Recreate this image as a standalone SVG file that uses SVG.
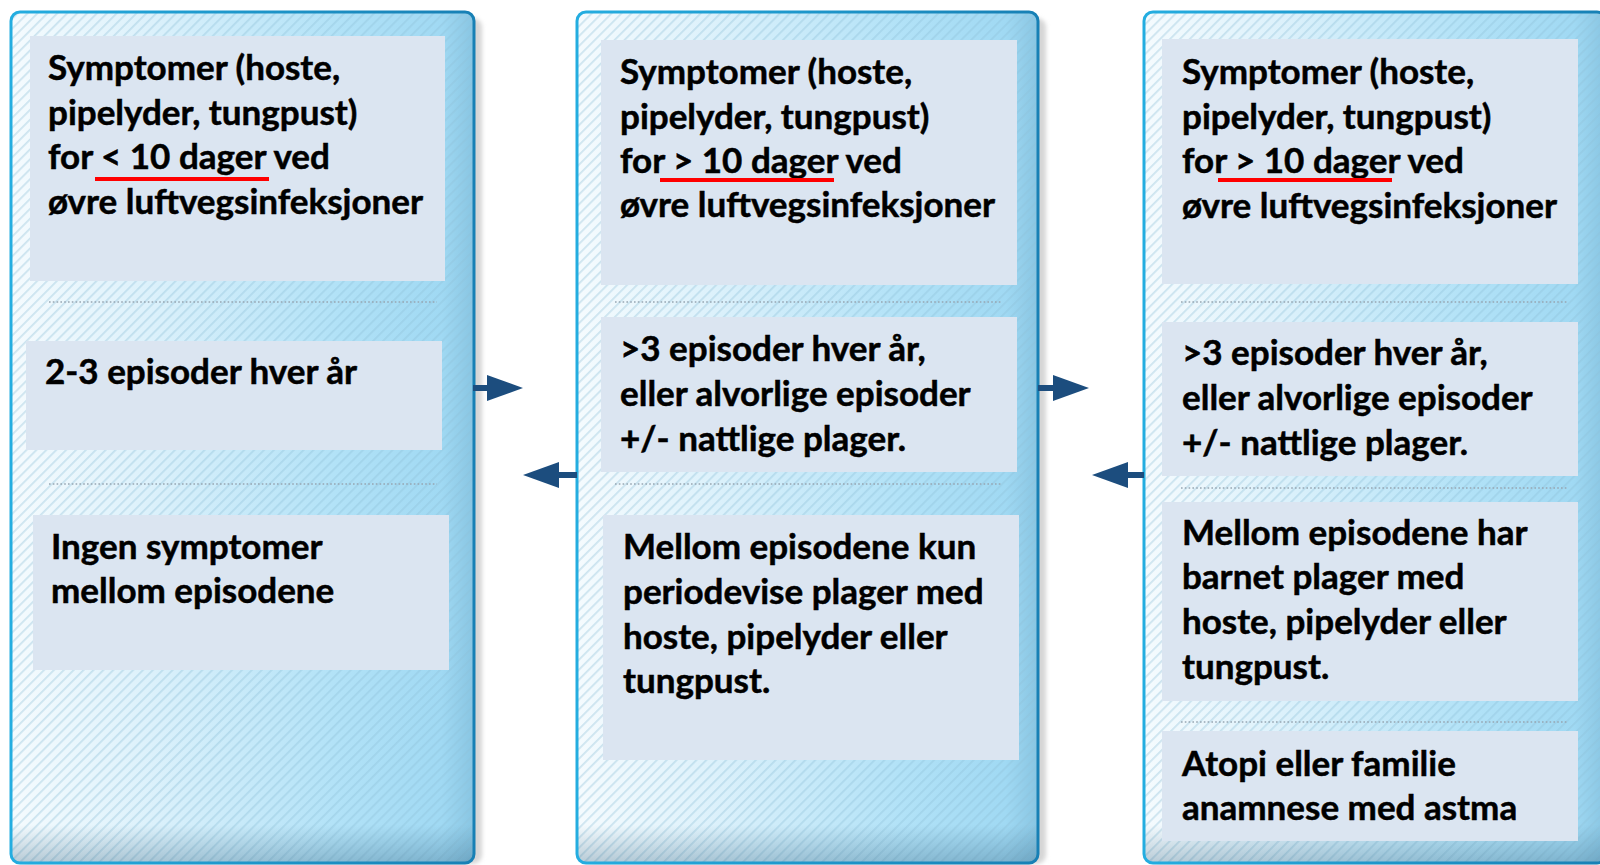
<svg xmlns="http://www.w3.org/2000/svg" width="1600" height="865" viewBox="0 0 1600 865">
<defs>
<style>
.t{font-family:Lato,"Open Sans","Liberation Sans",sans-serif;font-weight:700;font-size:35px;fill:#000;stroke:#000;stroke-width:0.5}
.box{fill:#dbe5f1}
.dot{stroke:#97a6b2;stroke-width:1.6;stroke-dasharray:1.6 2.2;fill:none}
.ul{stroke:#ff0000;stroke-width:4;fill:none}
.arr{fill:#1c4d7e}
.panel{fill:url(#pg)}
.hatch{fill:url(#hatch)}
.bot{fill:url(#bg)}
.frame{fill:none;stroke:url(#sg);stroke-width:3}
.shadow{fill:#d6d6d6;filter:url(#blur)}
</style>
<linearGradient id="pg" x1="0" y1="0" x2="1" y2="0">
<stop offset="0" stop-color="#f5fbfe"/>
<stop offset="0.3" stop-color="#dcf1fb"/>
<stop offset="0.7" stop-color="#b2e2f7"/>
<stop offset="0.93" stop-color="#a0d9f3"/>
<stop offset="1" stop-color="#88c5e2"/>
</linearGradient>
<linearGradient id="bg" x1="0" y1="0" x2="0" y2="1">
<stop offset="0.955" stop-color="#2a5a78" stop-opacity="0"/>
<stop offset="1" stop-color="#2a5a78" stop-opacity="0.3"/>
</linearGradient>
<linearGradient id="sg" x1="0" y1="0" x2="1" y2="0">
<stop offset="0" stop-color="#24ade0"/>
<stop offset="1" stop-color="#1780b5"/>
</linearGradient>
<pattern id="hatch" width="7" height="7" patternUnits="userSpaceOnUse" patternTransform="rotate(45)">
<rect x="0" y="0" width="1.8" height="7" fill="#8fc0d8" opacity="0.38"/>
</pattern>
<filter id="blur" x="-5%" y="-5%" width="110%" height="110%"><feGaussianBlur stdDeviation="2"/></filter>
</defs>
<rect width="1600" height="865" fill="#ffffff"/>

<g id="panel1">
<rect class="shadow" x="19" y="18" width="463" height="846" rx="9"/>
<rect class="panel" x="11" y="12" width="463" height="851" rx="9"/>
<rect class="hatch" x="11" y="12" width="463" height="851" rx="9"/>
<rect class="bot" x="11" y="12" width="463" height="851" rx="9"/>
<rect class="frame" x="11" y="12" width="463" height="851" rx="9"/>
<rect class="box" x="30" y="36" width="415" height="245"/>
<text class="t" x="48" y="80">Symptomer (hoste,</text>
<text class="t" x="48" y="124.5">pipelyder, tungpust)</text>
<text class="t" x="48" y="169">for &lt; 10 dager ved</text>
<text class="t" x="48" y="213.5">øvre luftvegsinfeksjoner</text>
<line class="ul" x1="95" y1="179" x2="269" y2="179"/>
<line class="dot" x1="49" y1="302" x2="437" y2="302"/>
<rect class="box" x="26" y="341" width="416" height="109"/>
<text class="t" x="45" y="384">2-3 episoder hver år</text>
<line class="dot" x1="49" y1="484" x2="437" y2="484"/>
<rect class="box" x="33" y="515" width="416" height="155"/>
<text class="t" x="51" y="559">Ingen symptomer</text>
<text class="t" x="51" y="603">mellom episodene</text>
</g>

<g id="panel2">
<rect class="shadow" x="585" y="18" width="461" height="846" rx="9"/>
<rect class="panel" x="577" y="12" width="461" height="851" rx="9"/>
<rect class="hatch" x="577" y="12" width="461" height="851" rx="9"/>
<rect class="bot" x="577" y="12" width="461" height="851" rx="9"/>
<rect class="frame" x="577" y="12" width="461" height="851" rx="9"/>
<rect class="box" x="601" y="40" width="416" height="245"/>
<text class="t" x="620" y="84">Symptomer (hoste,</text>
<text class="t" x="620" y="128.5">pipelyder, tungpust)</text>
<text class="t" x="620" y="172.5">for &gt; 10 dager ved</text>
<text class="t" x="620" y="217">øvre luftvegsinfeksjoner</text>
<line class="ul" x1="660" y1="180" x2="834" y2="180"/>
<line class="dot" x1="615" y1="302" x2="1002" y2="302"/>
<rect class="box" x="601" y="317" width="416" height="155"/>
<text class="t" x="620" y="361">&gt;3 episoder hver år,</text>
<text class="t" x="620" y="406">eller alvorlige episoder</text>
<text class="t" x="620" y="451">+/- nattlige plager.</text>
<line class="dot" x1="615" y1="484" x2="1002" y2="484"/>
<rect class="box" x="603" y="515" width="416" height="245"/>
<text class="t" x="623" y="559">Mellom episodene kun</text>
<text class="t" x="623" y="604">periodevise plager med</text>
<text class="t" x="623" y="649">hoste, pipelyder eller</text>
<text class="t" x="623" y="693">tungpust.</text>
</g>

<g id="panel3">
<rect class="shadow" x="1152" y="18" width="462" height="846" rx="9"/>
<rect class="panel" x="1144" y="12" width="462" height="851" rx="9"/>
<rect class="hatch" x="1144" y="12" width="462" height="851" rx="9"/>
<rect class="bot" x="1144" y="12" width="462" height="851" rx="9"/>
<rect class="frame" x="1144" y="12" width="462" height="851" rx="9"/>
<rect class="box" x="1162" y="39" width="416" height="245"/>
<text class="t" x="1182" y="84">Symptomer (hoste,</text>
<text class="t" x="1182" y="128.5">pipelyder, tungpust)</text>
<text class="t" x="1182" y="173">for &gt; 10 dager ved</text>
<text class="t" x="1182" y="217.5">øvre luftvegsinfeksjoner</text>
<line class="ul" x1="1218" y1="180" x2="1392" y2="180"/>
<line class="dot" x1="1181" y1="302" x2="1567" y2="302"/>
<rect class="box" x="1162" y="322" width="416" height="154"/>
<text class="t" x="1182" y="365">&gt;3 episoder hver år,</text>
<text class="t" x="1182" y="410">eller alvorlige episoder</text>
<text class="t" x="1182" y="455">+/- nattlige plager.</text>
<line class="dot" x1="1181" y1="488" x2="1567" y2="488"/>
<rect class="box" x="1162" y="502" width="416" height="199"/>
<text class="t" x="1182" y="545">Mellom episodene har</text>
<text class="t" x="1182" y="589">barnet plager med</text>
<text class="t" x="1182" y="634">hoste, pipelyder eller</text>
<text class="t" x="1182" y="679">tungpust.</text>
<line class="dot" x1="1181" y1="722" x2="1567" y2="722"/>
<rect class="box" x="1162" y="731" width="416" height="110"/>
<text class="t" x="1182" y="776">Atopi eller familie</text>
<text class="t" x="1182" y="820">anamnese med astma</text>
</g>

<g id="connectors">
<rect class="arr" x="473" y="385" width="16" height="6"/>
<polygon class="arr" points="487,375 523,388 487,401"/>
<rect class="arr" x="557" y="472" width="20" height="6"/>
<polygon class="arr" points="523,475 559,462 559,488"/>
<rect class="arr" x="1038" y="385" width="17" height="6"/>
<polygon class="arr" points="1053,375 1089,388 1053,401"/>
<rect class="arr" x="1126" y="472" width="18" height="6"/>
<polygon class="arr" points="1092,475 1128,462 1128,488"/>
</g>
</svg>
